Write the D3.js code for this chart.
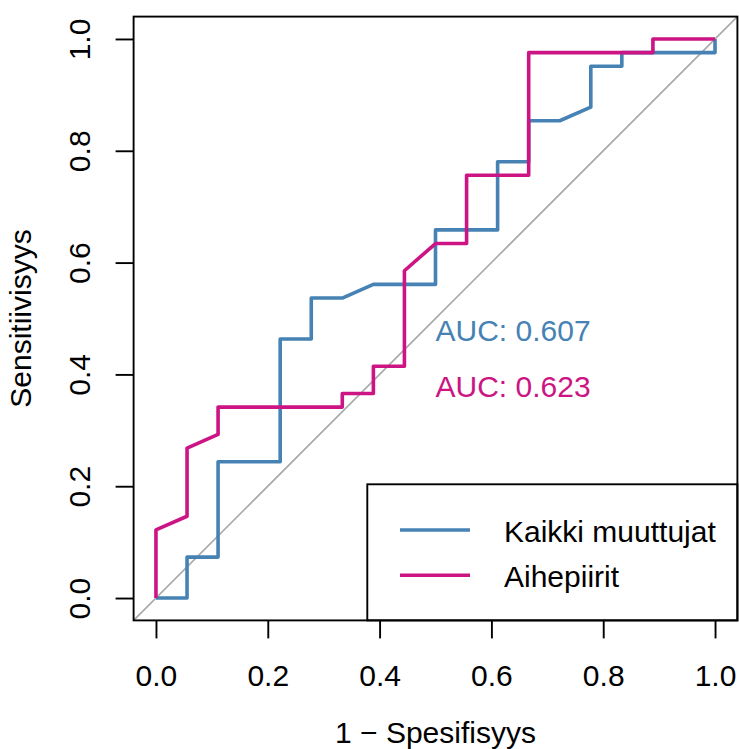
<!DOCTYPE html>
<html>
<head>
<meta charset="utf-8">
<script src="https://cdn.jsdelivr.net/npm/d3@7"></script>
<style>
  html, body { margin: 0; padding: 0; background: #ffffff; }
  svg { display: block; }
  text { font-family: "Liberation Sans", Arial, Helvetica, sans-serif; }
</style>
</head>
<body>
<svg id="chart" width="739" height="749"></svg>
<script>
// ---- data ----
const seriesNames = ["Kaikki muuttujat", "Aihepiirit"];
const seriesColors = ["#4682B4", "#CC1484"];
const aucLabels = ["AUC: 0.607", "AUC: 0.623"];

const fprKaikki = [0, 0.0556, 0.0556, 0.1111, 0.1111, 0.2222, 0.2222, 0.2778, 0.2778, 0.3333, 0.3889, 0.5, 0.5, 0.6111, 0.6111, 0.6667, 0.6667, 0.7222, 0.7778, 0.7778, 0.8333, 0.8333, 1, 1];
const tprKaikki = [0, 0, 0.0732, 0.0732, 0.2439, 0.2439, 0.4634, 0.4634, 0.5366, 0.5366, 0.561, 0.561, 0.6585, 0.6585, 0.7805, 0.7805, 0.8537, 0.8537, 0.878, 0.9512, 0.9512, 0.9756, 0.9756, 1];

const fprAihe = [0, 0, 0.0556, 0.0556, 0.1111, 0.1111, 0.3333, 0.3333, 0.3889, 0.3889, 0.4444, 0.4444, 0.5, 0.5556, 0.5556, 0.6667, 0.6667, 0.8889, 0.8889, 1];
const tprAihe = [0, 0.122, 0.1463, 0.2683, 0.2927, 0.3415, 0.3415, 0.3659, 0.3659, 0.4146, 0.4146, 0.5854, 0.6341, 0.6341, 0.7561, 0.7561, 0.9756, 0.9756, 1, 1];

const xTicks = [0, 0.2, 0.4, 0.6, 0.8, 1.0];
const yTicks = [0, 0.2, 0.4, 0.6, 0.8, 1.0];
const xTitle = "1 \u2212 Spesifisyys";
const yTitle = "Sensitiivisyys";

// ---- layout ----
const svg = d3.select("#chart");
const box = { left: 133.6, right: 737.4, top: 16.6, bottom: 620.4 };
const x = d3.scaleLinear().domain([-0.04, 1.04]).range([box.left, box.right]);
const y = d3.scaleLinear().domain([-0.04, 1.04]).range([box.bottom, box.top]);
const FS = 30;

svg.append("defs").append("clipPath").attr("id", "plotclip")
  .append("rect").attr("x", box.left).attr("y", box.top)
  .attr("width", box.right - box.left).attr("height", box.bottom - box.top);

// diagonal reference line
svg.append("line")
  .attr("clip-path", "url(#plotclip)")
  .attr("x1", x(-0.04)).attr("y1", y(-0.04))
  .attr("x2", x(1.04)).attr("y2", y(1.04))
  .attr("stroke", "#A9A9A9").attr("stroke-width", 1.6);

// curves
const line = d3.line().x(d => x(d[0])).y(d => y(d[1]));
const curves = [
  d3.zip(fprKaikki, tprKaikki),
  d3.zip(fprAihe, tprAihe)
];
curves.forEach((pts, i) => {
  svg.append("path")
    .datum(pts)
    .attr("d", line)
    .attr("fill", "none")
    .attr("stroke", seriesColors[i])
    .attr("stroke-width", 3.6)
    .attr("stroke-linejoin", "round")
    .attr("stroke-linecap", "butt");
});

// AUC labels (top of text at y = 0.5, 0.4)
const aucY = [0.5, 0.4];
aucLabels.forEach((t, i) => {
  svg.append("text")
    .attr("x", x(0.5))
    .attr("y", y(aucY[i]) + 22.3)
    .attr("font-size", FS)
    .attr("fill", seriesColors[i])
    .text(t);
});

// legend (bottom right, inset 0)
const lg = svg.append("g");
lg.append("rect")
  .attr("x", 367.3).attr("y", 484.3)
  .attr("width", box.right - 367.3).attr("height", box.bottom - 484.3)
  .attr("fill", "#ffffff").attr("stroke", "#000").attr("stroke-width", 1.9);
seriesNames.forEach((n, i) => {
  const ly = 530 + i * 45.3;
  lg.append("line")
    .attr("x1", 400).attr("x2", 470).attr("y1", ly).attr("y2", ly)
    .attr("stroke", seriesColors[i]).attr("stroke-width", 3.6);
  lg.append("text")
    .attr("x", 504).attr("y", ly + 11.5)
    .attr("font-size", FS).attr("fill", "#000")
    .text(n);
});

// plot box
svg.append("rect")
  .attr("x", box.left).attr("y", box.top)
  .attr("width", box.right - box.left).attr("height", box.bottom - box.top)
  .attr("fill", "none").attr("stroke", "#000").attr("stroke-width", 1.9);

// x axis
const xAxis = d3.axisBottom(x).tickValues(xTicks).tickFormat(d3.format(".1f"))
  .tickSize(18).tickPadding(0);
const gx = svg.append("g").attr("transform", `translate(0,${box.bottom})`).call(xAxis);
gx.select(".domain").remove();
gx.selectAll(".tick line").attr("stroke", "#000").attr("stroke-width", 1.9);
gx.selectAll(".tick text")
  .attr("font-size", FS).attr("fill", "#000")
  .attr("font-family", "Liberation Sans, Arial, sans-serif")
  .attr("dy", null).attr("y", 65.5);

// y axis
const yAxis = d3.axisLeft(y).tickValues(yTicks).tickFormat(d3.format(".1f"))
  .tickSize(18).tickPadding(0);
const gy = svg.append("g").attr("transform", `translate(${box.left},0)`).call(yAxis);
gy.select(".domain").remove();
gy.selectAll(".tick line").attr("stroke", "#000").attr("stroke-width", 1.9);
gy.selectAll(".tick text")
  .attr("font-size", FS).attr("fill", "#000")
  .attr("font-family", "Liberation Sans, Arial, sans-serif")
  .attr("x", null).attr("dy", null)
  .attr("text-anchor", "middle")
  .attr("transform", "translate(-43.2,0) rotate(-90)");

// axis titles
svg.append("text")
  .attr("x", (box.left + box.right) / 2).attr("y", 743)
  .attr("text-anchor", "middle").attr("font-size", FS).attr("fill", "#000")
  .text(xTitle);
svg.append("text")
  .attr("transform", `translate(31,${(box.top + box.bottom) / 2}) rotate(-90)`)
  .attr("text-anchor", "middle").attr("font-size", FS).attr("fill", "#000")
  .text(yTitle);
</script>
</body>
</html>
